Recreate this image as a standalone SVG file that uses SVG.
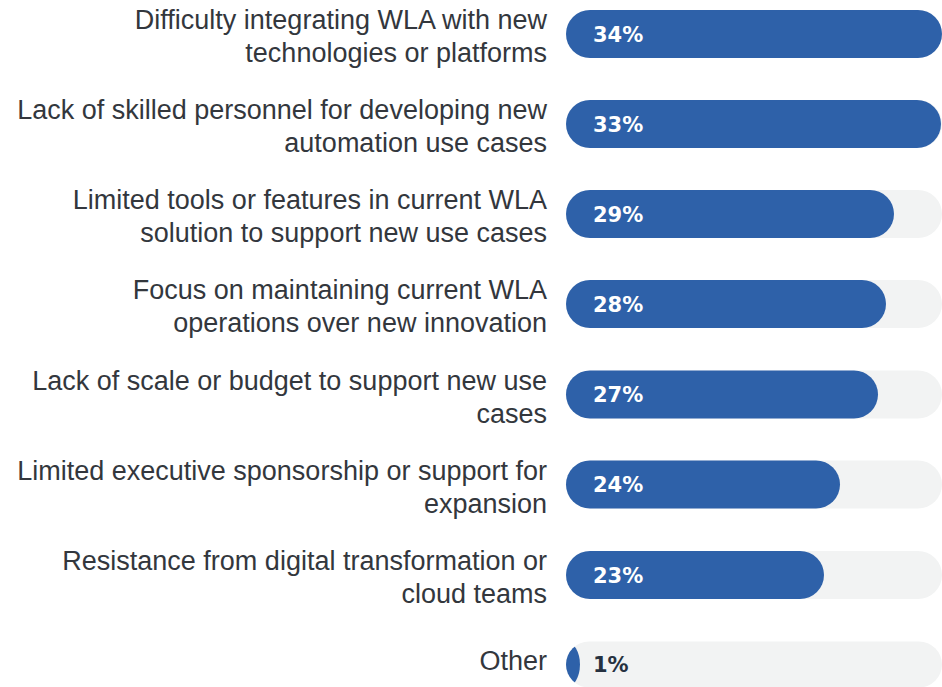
<svg xmlns="http://www.w3.org/2000/svg" width="942" height="687" viewBox="0 0 942 687">
<style>
.lbl{font-family:"Liberation Sans",Arial,sans-serif;font-size:27px;fill:#33373d;text-anchor:end}
.pct{font-family:"DejaVu Sans",sans-serif;font-weight:bold;font-size:21px;fill:#ffffff}
.pctd{fill:#263140}
.track{fill:#f2f3f3}
.bar{fill:#2e61a9}
</style>
<defs>
<clipPath id="c8"><rect x="566" y="641.5" width="376" height="46" rx="23"/></clipPath>
</defs>
<rect width="942" height="687" fill="#ffffff"/>
<g id="row1">
<text class="lbl" x="547" y="29">Difficulty integrating WLA with new</text>
<text class="lbl" x="547" y="62">technologies or platforms</text>
<rect class="track" x="566" y="10" width="376" height="48" rx="24"/>
<rect class="bar" x="566" y="10" width="376" height="48" rx="24"/>
<text class="pct" x="593" y="41.5">34%</text>
</g>
<g id="row2">
<text class="lbl" x="547" y="119">Lack of skilled personnel for developing new</text>
<text class="lbl" x="547" y="152">automation use cases</text>
<rect class="track" x="566" y="100" width="376" height="48" rx="24"/>
<rect class="bar" x="566" y="100" width="375" height="48" rx="24"/>
<text class="pct" x="593" y="131.5">33%</text>
</g>
<g id="row3">
<text class="lbl" x="547" y="209">Limited tools or features in current WLA</text>
<text class="lbl" x="547" y="242">solution to support new use cases</text>
<rect class="track" x="566" y="190" width="376" height="48" rx="24"/>
<rect class="bar" x="566" y="190" width="328" height="48" rx="24"/>
<text class="pct" x="593" y="221.5">29%</text>
</g>
<g id="row4">
<text class="lbl" x="547" y="299">Focus on maintaining current WLA</text>
<text class="lbl" x="547" y="332">operations over new innovation</text>
<rect class="track" x="566" y="280" width="376" height="48" rx="24"/>
<rect class="bar" x="566" y="280" width="320" height="48" rx="24"/>
<text class="pct" x="593" y="311.5">28%</text>
</g>
<g id="row5">
<text class="lbl" x="547" y="389.5">Lack of scale or budget to support new use</text>
<text class="lbl" x="547" y="422.5">cases</text>
<rect class="track" x="566" y="370.5" width="376" height="48" rx="24"/>
<rect class="bar" x="566" y="370.5" width="312" height="48" rx="24"/>
<text class="pct" x="593" y="402">27%</text>
</g>
<g id="row6">
<text class="lbl" x="547" y="479.5">Limited executive sponsorship or support for</text>
<text class="lbl" x="547" y="512.5">expansion</text>
<rect class="track" x="566" y="460.5" width="376" height="48" rx="24"/>
<rect class="bar" x="566" y="460.5" width="274" height="48" rx="24"/>
<text class="pct" x="593" y="492">24%</text>
</g>
<g id="row7">
<text class="lbl" x="547" y="570">Resistance from digital transformation or</text>
<text class="lbl" x="547" y="603">cloud teams</text>
<rect class="track" x="566" y="551" width="376" height="48" rx="24"/>
<rect class="bar" x="566" y="551" width="258" height="48" rx="24"/>
<text class="pct" x="593" y="582.5">23%</text>
</g>
<g id="row8">
<text class="lbl" x="547" y="670">Other</text>
<rect class="track" x="566" y="641.5" width="376" height="46" rx="23"/>
<g clip-path="url(#c8)">
<rect class="bar" x="552" y="641.5" width="28" height="46" rx="23"/>
</g>
<text class="pct pctd" x="593" y="672">1%</text>
</g>
</svg>
